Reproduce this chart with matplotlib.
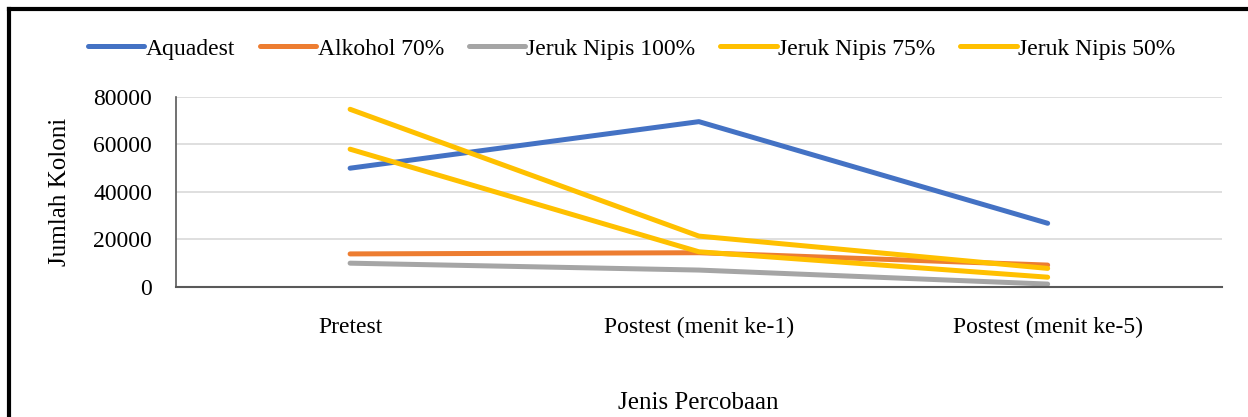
import matplotlib.pyplot as plt
from matplotlib.lines import Line2D

# Datos
kategori = ['Pretest', 'Postest (menit ke-1)', 'Postest (menit ke-5)']
aquadest = [49900, 69500, 26700]
alkohol_70 = [13800, 14300, 9100]
jeruk_100 = [9900, 7000, 1100]
jeruk_75 = [57900, 14700, 4000]
jeruk_50 = [74700, 21300, 7700]

seri = [
    ('Aquadest', aquadest, '#4472C4'),
    ('Alkohol 70%', alkohol_70, '#ED7D31'),
    ('Jeruk Nipis 100%', jeruk_100, '#A5A5A5'),
    ('Jeruk Nipis 75%', jeruk_75, '#FFC000'),
    ('Jeruk Nipis 50%', jeruk_50, '#FFC000'),
]

plt.rcParams['font.family'] = ['Liberation Serif', 'DejaVu Serif']

fig = plt.figure(figsize=(12.48, 4.17), dpi=100)
ax = fig.add_axes([0.1408, 0.3125, 0.8384, 0.4556])

x = range(len(kategori))
for nama, nilai, warna in seri:
    ax.plot(x, nilai, color=warna, linewidth=3.6, solid_capstyle='round',
            solid_joinstyle='round', label=nama)

ax.set_xlim(-0.5, 2.5)
ax.set_ylim(0, 80000)
ax.set_yticks([0, 20000, 40000, 60000, 80000])
ax.set_xticks(list(x))
ax.set_xticklabels(kategori)
ax.tick_params(axis='both', length=0, labelsize=17)
ax.tick_params(axis='x', pad=22)
ax.tick_params(axis='y', pad=17)
ax.yaxis.grid(True, color='#D9D9D9', linewidth=1.2)
ax.set_axisbelow(True)
for s in ['top', 'right']:
    ax.spines[s].set_visible(False)
ax.spines['bottom'].set_color('#595959')
ax.spines['bottom'].set_linewidth(1.5)
ax.spines['left'].set_color('#595959')
ax.spines['left'].set_linewidth(1.2)

ax.set_ylabel('Jumlah Koloni', fontsize=18, labelpad=16)
fig.text(0.5595, 0.033, 'Jenis Percobaan', fontsize=18, ha='center', va='center')

fig.legend(loc='center', bbox_to_anchor=(0.506, 0.883), ncol=5, frameon=False,
           fontsize=17, handlelength=2.4, handletextpad=0.05, columnspacing=1.05)

# bingkai (atas dan kiri)
bx = 9 / 1248
by = 1 - 9 / 417
fig.lines.append(Line2D([bx, bx], [0, by], transform=fig.transFigure,
                        color='black', linewidth=3, solid_capstyle='projecting'))
fig.lines.append(Line2D([bx, 1], [by, by], transform=fig.transFigure,
                        color='black', linewidth=3, solid_capstyle='projecting'))

fig.savefig('out.png', dpi=100)
